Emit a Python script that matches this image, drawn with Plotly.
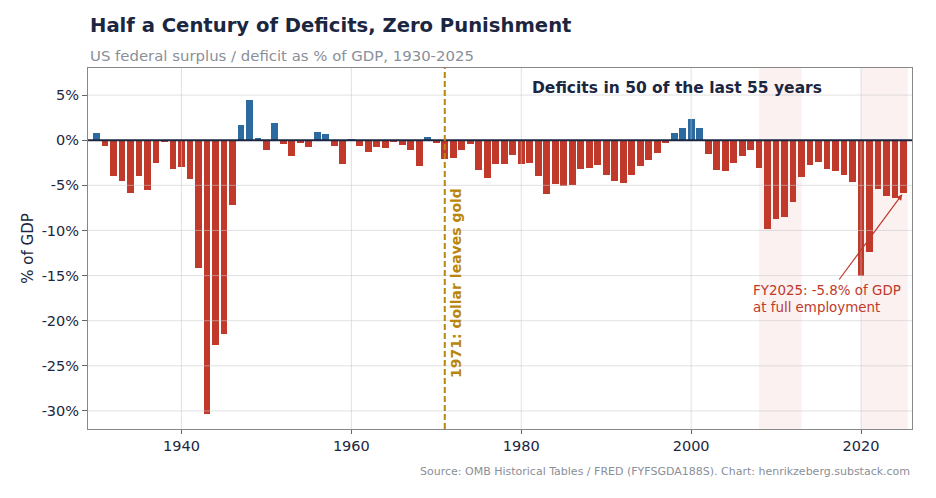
import plotly.graph_objects as go

years = list(range(1930, 2026))
balance = [
    0.8, -0.6, -4.0, -4.5, -5.9, -4.0, -5.5, -2.5, -0.1, -3.2,
    -3.0, -4.3, -14.2, -30.3, -22.7, -21.5, -7.2, 1.7, 4.5, 0.2,
    -1.1, 1.9, -0.4, -1.7, -0.3, -0.8, 0.9, 0.7, -0.6, -2.6,
    0.1, -0.6, -1.3, -0.8, -0.9, -0.2, -0.5, -1.1, -2.9, 0.3,
    -0.3, -2.1, -2.0, -1.1, -0.4, -3.3, -4.2, -2.6, -2.6, -1.6,
    -2.6, -2.5, -4.0, -6.0, -4.8, -5.1, -5.0, -3.2, -3.1, -2.8,
    -3.9, -4.5, -4.7, -3.9, -2.9, -2.2, -1.4, -0.3, 0.8, 1.4,
    2.3, 1.3, -1.5, -3.3, -3.4, -2.5, -1.8, -1.1, -3.1, -9.8,
    -8.7, -8.5, -6.8, -4.1, -2.8, -2.4, -3.2, -3.4, -3.8, -4.6,
    -15.0, -12.4, -5.4, -6.2, -6.4, -5.8,
]
y_ticks = [5, 0, -5, -10, -15, -20, -25, -30]
x_ticks = [1940, 1960, 1980, 2000, 2020]
crisis_spans = [(2008, 2013), (2020, 2025.5)]
gold_year = 1971

RED = '#c0392b'
BLUE = '#2c6aa0'
NAVY = '#1b2640'
GOLD = '#b8860b'
FONT = 'DejaVu Sans'

colors = [BLUE if v > 0 else RED for v in balance]

fig = go.Figure()
fig.add_trace(go.Bar(
    x=years,
    y=balance,
    width=0.8,
    marker=dict(color=colors, line=dict(width=0)),
    showlegend=False,
))

# recession / crisis shading
for x0, x1 in crisis_spans:
    fig.add_shape(type='rect', xref='x', yref='paper', x0=x0, x1=x1, y0=0, y1=1,
                  fillcolor='rgba(192,57,43,0.07)', line=dict(width=0), layer='below')

# grid drawn over the bars, like the original
for t in y_ticks:
    if t == 0:
        continue
    fig.add_shape(type='line', xref='paper', yref='y', x0=0, x1=1, y0=t, y1=t,
                  line=dict(color='rgba(200,200,200,0.55)', width=1), layer='above')
for t in x_ticks:
    fig.add_shape(type='line', xref='x', yref='paper', x0=t, x1=t, y0=0, y1=1,
                  line=dict(color='rgba(200,200,200,0.55)', width=1), layer='above')

# zero line
fig.add_shape(type='line', xref='paper', yref='y', x0=0, x1=1, y0=0, y1=0,
              line=dict(color=NAVY, width=2), layer='above')

# 1971 gold window
fig.add_shape(type='line', xref='x', yref='paper', x0=gold_year, x1=gold_year, y0=0, y1=1,
              line=dict(color=GOLD, width=2, dash='6px,3px'), layer='above')

fig.add_annotation(x=gold_year + 1.35, y=-15.8, xref='x', yref='y', text='<b>1971: dollar leaves gold</b>',
                   textangle=-90, showarrow=False, font=dict(family=FONT, size=14, color=GOLD))

fig.add_annotation(x=1981, y=5.8, xref='x', yref='y', xanchor='left', text='<b>Deficits in 50 of the last 55 years</b>',
                   showarrow=False, font=dict(family=FONT, size=15.5, color=NAVY))

# arrow to FY2025
fig.add_annotation(x=years[-1], y=balance[-1], ax=2017.3, ay=-15.6, xref='x', yref='y', axref='x', ayref='y',
                   text='', showarrow=True, arrowhead=2, arrowsize=1, arrowwidth=1.2, arrowcolor=RED, standoff=2)
fig.add_annotation(x=2007, y=-17.6, xref='x', yref='y', xanchor='left', align='left',
                   text='FY2025: -5.8% of GDP<br>at full employment', showarrow=False,
                   font=dict(family=FONT, size=13.4, color=RED))

# title, subtitle, source
fig.add_annotation(x=0, y=1.117, xref='paper', yref='paper', xanchor='left', yanchor='middle',
                   text='<b>Half a Century of Deficits, Zero Punishment</b>', showarrow=False,
                   font=dict(family=FONT, size=19.6, color=NAVY))
fig.add_annotation(x=0, y=1.032, xref='paper', yref='paper', xanchor='left', yanchor='middle',
                   text='US federal surplus / deficit as % of GDP, 1930-2025', showarrow=False,
                   font=dict(family=FONT, size=14.9, color='#8a8f98'))
fig.add_annotation(x=1, y=-0.118, xref='paper', yref='paper', xanchor='right', yanchor='middle',
                   text='Source: OMB Historical Tables / FRED (FYFSGDA188S). Chart: henrikzeberg.substack.com',
                   showarrow=False, font=dict(family=FONT, size=11, color='#8a8f98'))

fig.update_layout(
    width=928, height=490,
    margin=dict(l=80, r=24, t=60, b=69),
    paper_bgcolor='white', plot_bgcolor='white',
    font=dict(family=FONT, size=14.5, color=NAVY),
    bargap=0,
)
fig.update_xaxes(
    range=[1929, 2026], tickvals=x_ticks, showgrid=False, zeroline=False,
    showline=True, linecolor='#888888', linewidth=1, mirror=True,
    ticks='outside', ticklen=4, tickcolor='#666666', tickfont=dict(size=14.5, color=NAVY),
)
fig.update_yaxes(
    range=[-32, 8], tickvals=y_ticks, ticktext=[f'{t}%' for t in y_ticks],
    showgrid=False, zeroline=False,
    showline=True, linecolor='#888888', linewidth=1, mirror=True,
    ticks='outside', ticklen=5, tickcolor='#666666', tickfont=dict(size=14.5, color=NAVY),
    title=dict(text='% of GDP', standoff=4, font=dict(size=15, color=NAVY)),
)

fig.write_html('out.html')
